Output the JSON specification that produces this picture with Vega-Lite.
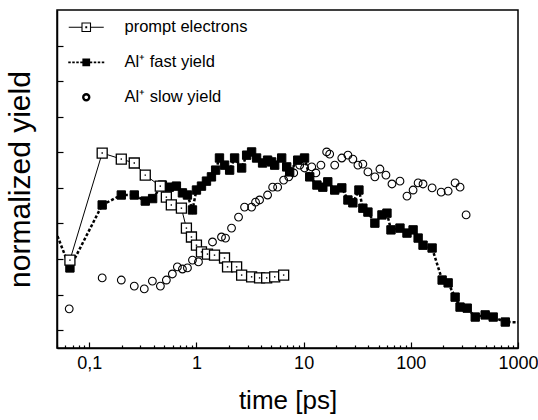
{
  "$schema": "https://vega.github.io/schema/vega-lite/v6.json",
  "autosize": "none",
  "width": 461,
  "height": 338,
  "padding": {"left": 57, "top": 10, "right": 20, "bottom": 72},
  "background": "white",
  "config": {
    "view": {"stroke": "black", "strokeWidth": 1.5},
    "font": "Liberation Sans",
    "axis": {"grid": false, "domainColor": "black", "domainWidth": 1.5, "tickColor": "black", "tickWidth": 1.2, "labelColor": "black", "titleColor": "black", "labelFont": "Liberation Sans", "titleFont": "Liberation Sans", "titleFontWeight": "normal"}
  },
  "datasets": {
    "pe": [
      {"t": 0.066, "y": 0.297}, {"t": 0.132, "y": 0.598}, {"t": 0.199, "y": 0.581}, {"t": 0.263, "y": 0.570}, {"t": 0.333, "y": 0.536},
      {"t": 0.46, "y": 0.505}, {"t": 0.524, "y": 0.474}, {"t": 0.583, "y": 0.452}, {"t": 0.724, "y": 0.443}, {"t": 0.806, "y": 0.387},
      {"t": 0.898, "y": 0.362}, {"t": 1.0, "y": 0.339}, {"t": 1.114, "y": 0.320}, {"t": 1.267, "y": 0.314}, {"t": 1.474, "y": 0.311},
      {"t": 1.827, "y": 0.303}, {"t": 1.95, "y": 0.278}, {"t": 2.37, "y": 0.278}, {"t": 2.64, "y": 0.255}, {"t": 3.27, "y": 0.25},
      {"t": 3.88, "y": 0.247}, {"t": 4.52, "y": 0.247}, {"t": 5.37, "y": 0.25}, {"t": 6.51, "y": 0.255}
    ],
    "fast": [
      {"t": 0.04, "y": 0.443}, {"t": 0.066, "y": 0.275}, {"t": 0.132, "y": 0.452}, {"t": 0.199, "y": 0.480}, {"t": 0.263, "y": 0.480},
      {"t": 0.333, "y": 0.463}, {"t": 0.39, "y": 0.47}, {"t": 0.481, "y": 0.508}, {"t": 0.559, "y": 0.502}, {"t": 0.650, "y": 0.505},
      {"t": 0.740, "y": 0.486}, {"t": 0.824, "y": 0.480}, {"t": 0.918, "y": 0.438}, {"t": 1.0, "y": 0.494}, {"t": 1.114, "y": 0.505},
      {"t": 1.24, "y": 0.519}, {"t": 1.38, "y": 0.531}, {"t": 1.51, "y": 0.550}, {"t": 1.64, "y": 0.584}, {"t": 1.83, "y": 0.564},
      {"t": 2.04, "y": 0.550}, {"t": 2.27, "y": 0.584}, {"t": 2.64, "y": 0.556}, {"t": 2.94, "y": 0.592}, {"t": 3.27, "y": 0.601},
      {"t": 3.64, "y": 0.584}, {"t": 4.14, "y": 0.570}, {"t": 4.61, "y": 0.578}, {"t": 5.03, "y": 0.573}, {"t": 5.37, "y": 0.564},
      {"t": 6.24, "y": 0.584}, {"t": 6.95, "y": 0.559}, {"t": 7.41, "y": 0.545}, {"t": 8.81, "y": 0.578}, {"t": 10.2, "y": 0.584},
      {"t": 11.4, "y": 0.531}, {"t": 13.3, "y": 0.508}, {"t": 15.1, "y": 0.502}, {"t": 16.8, "y": 0.517}, {"t": 19.5, "y": 0.494},
      {"t": 22.7, "y": 0.500}, {"t": 25.9, "y": 0.466}, {"t": 28.8, "y": 0.458}, {"t": 32.8, "y": 0.494}, {"t": 35.7, "y": 0.443},
      {"t": 39.8, "y": 0.432}, {"t": 46.2, "y": 0.401}, {"t": 53.8, "y": 0.424}, {"t": 59.9, "y": 0.429}, {"t": 65.3, "y": 0.382},
      {"t": 79.2, "y": 0.387}, {"t": 92.1, "y": 0.373}, {"t": 105, "y": 0.382}, {"t": 117, "y": 0.359}, {"t": 130, "y": 0.339},
      {"t": 158, "y": 0.331}, {"t": 196, "y": 0.241}, {"t": 223, "y": 0.233}, {"t": 259, "y": 0.193}, {"t": 288, "y": 0.165},
      {"t": 336, "y": 0.162}, {"t": 399, "y": 0.137}, {"t": 494, "y": 0.143}, {"t": 587, "y": 0.137}, {"t": 761, "y": 0.123},
      {"t": 1200, "y": 0.122}
    ],
    "slow": [
      {"t": 0.065, "y": 0.160}, {"t": 0.132, "y": 0.247}, {"t": 0.199, "y": 0.241}, {"t": 0.263, "y": 0.224}, {"t": 0.326, "y": 0.216},
      {"t": 0.388, "y": 0.238}, {"t": 0.461, "y": 0.224}, {"t": 0.524, "y": 0.241}, {"t": 0.596, "y": 0.258}, {"t": 0.664, "y": 0.278},
      {"t": 0.740, "y": 0.272}, {"t": 0.824, "y": 0.275}, {"t": 0.918, "y": 0.297}, {"t": 1.044, "y": 0.292}, {"t": 1.412, "y": 0.348},
      {"t": 1.713, "y": 0.362}, {"t": 1.867, "y": 0.359}, {"t": 2.125, "y": 0.387}, {"t": 2.47, "y": 0.418}, {"t": 2.81, "y": 0.446},
      {"t": 3.27, "y": 0.446}, {"t": 3.56, "y": 0.460}, {"t": 3.88, "y": 0.466}, {"t": 4.61, "y": 0.480}, {"t": 5.14, "y": 0.502},
      {"t": 5.72, "y": 0.502}, {"t": 6.51, "y": 0.522}, {"t": 7.26, "y": 0.531}, {"t": 8.08, "y": 0.542}, {"t": 9.2, "y": 0.564},
      {"t": 10.2, "y": 0.556}, {"t": 11.9, "y": 0.559}, {"t": 13.0, "y": 0.542}, {"t": 14.5, "y": 0.564}, {"t": 16.4, "y": 0.601},
      {"t": 17.5, "y": 0.595}, {"t": 19.5, "y": 0.564}, {"t": 22.7, "y": 0.584}, {"t": 25.9, "y": 0.592}, {"t": 28.8, "y": 0.581},
      {"t": 32.1, "y": 0.564}, {"t": 35.7, "y": 0.567}, {"t": 39.8, "y": 0.545}, {"t": 46.2, "y": 0.531}, {"t": 51.5, "y": 0.553},
      {"t": 58.6, "y": 0.536}, {"t": 66.7, "y": 0.511}, {"t": 79.2, "y": 0.519}, {"t": 92.1, "y": 0.477}, {"t": 105, "y": 0.494},
      {"t": 117, "y": 0.514}, {"t": 130, "y": 0.511}, {"t": 158, "y": 0.500}, {"t": 192, "y": 0.488}, {"t": 223, "y": 0.491},
      {"t": 259, "y": 0.514}, {"t": 288, "y": 0.502}, {"t": 328, "y": 0.424}
    ],
    "none": []
  },
  "encoding": {
    "x": {
      "field": "t", "type": "quantitative",
      "scale": {"type": "log", "domain": [0.05, 1000]},
      "axis": {
        "title": "time [ps]", "titleFontSize": 26, "titlePadding": 12,
        "values": [0.05,0.06,0.07,0.08,0.09,0.1,0.2,0.3,0.4,0.5,0.6,0.7,0.8,0.9,1,2,3,4,5,6,7,8,9,10,20,30,40,50,60,70,80,90,100,200,300,400,500,600,700,800,900,1000],
        "labelExpr": "datum.value == 0.1 ? '0,1' : datum.value == 1 ? '1' : datum.value == 10 ? '10' : datum.value == 100 ? '100' : datum.value == 1000 ? '1000' : ''",
        "labelFontSize": 18, "labelPadding": 12, "labelOverlap": false, "labelFlush": false,
        "tickSize": {"condition": {"test": "datum.value == 0.1 || datum.value == 1 || datum.value == 10 || datum.value == 100 || datum.value == 1000", "value": -6}, "value": -3}
      }
    },
    "y": {
      "field": "y", "type": "quantitative",
      "scale": {"domain": [0.05, 1.0], "nice": false, "zero": false},
      "axis": {
        "title": "normalized yield", "titleFontSize": 30, "titlePadding": 21,
        "values": [0.1,0.2,0.3,0.4,0.5,0.6,0.7,0.8,0.9],
        "labels": false, "tickSize": -6
      }
    }
  },
  "layer": [
    {
      "data": {"name": "slow"},
      "mark": {"type": "point", "shape": "circle", "filled": false, "stroke": "black", "strokeWidth": 1.1, "size": 60, "opacity": 1, "clip": true},
      "encoding": {}
    },
    {
      "data": {"name": "fast"},
      "mark": {"type": "line", "clip": true, "stroke": "black", "strokeWidth": 2.5, "strokeDash": [3, 2]},
      "encoding": {}
    },
    {
      "data": {"name": "fast"},
      "transform": [{"filter": "datum.t >= 0.05 && datum.t <= 1000"}],
      "mark": {"type": "point", "shape": "square", "filled": true, "fill": "black", "stroke": "black", "strokeWidth": 1, "size": 70, "opacity": 1, "clip": true},
      "encoding": {}
    },
    {
      "data": {"name": "pe"},
      "mark": {"type": "line", "clip": true, "stroke": "black", "strokeWidth": 1},
      "encoding": {}
    },
    {
      "data": {"name": "pe"},
      "mark": {"type": "point", "shape": "square", "filled": true, "fill": "white", "stroke": "black", "strokeWidth": 1.3, "size": 100, "opacity": 1, "clip": true},
      "encoding": {}
    },
    {
      "data": {"name": "pe"},
      "mark": {"type": "square", "size": 2, "color": "black", "opacity": 1, "clip": true},
      "encoding": {}
    },
    {
      "data": {"name": "none"},
      "mark": {"type": "point", "filled": true, "stroke": "black", "size": 100, "opacity": 1},
      "encoding": {
        "shape": {
          "field": "s", "type": "nominal",
          "scale": {"domain": ["prompt electrons", "Al⁺ fast yield", "Al⁺ slow yield"], "range": ["M-3.5,0H-0.85M0.85,0H3.5M-0.85,-0.85H0.85V0.85H-0.85ZM-0.08,-0.08H0.08V0.08H-0.08Z", "M-3.6,0H-3.1M-2.8,0H-2.3M-2,0H-1.5M-1.2,0H-0.6M0.6,0H1.2M1.5,0H2M2.3,0H2.8M3.1,0H3.6M-0.6,-0.6H0.6V0.6H-0.6Z", "M0.6,0A0.6,0.6,0,1,1,-0.6,0A0.6,0.6,0,1,1,0.6,0Z"]},
          "legend": {
            "title": null, "orient": "none", "legendX": 21, "legendY": 9,
            "labelFont": "Liberation Sans", "labelFontSize": 16.5, "labelColor": "black", "labelLimit": 300,
            "symbolSize": 100, "labelOffset": 30, "rowPadding": 18, "padding": 0
          }
        },
        "fill": {
          "field": "s", "type": "nominal",
          "scale": {"domain": ["prompt electrons", "Al⁺ fast yield", "Al⁺ slow yield"], "range": ["white", "black", "white"]}
        },
        "strokeWidth": {
          "field": "s", "type": "nominal",
          "scale": {"domain": ["prompt electrons", "Al⁺ fast yield", "Al⁺ slow yield"], "range": [1.1, 2.4, 1.1]}
        }
      }
    }
  ]
}
